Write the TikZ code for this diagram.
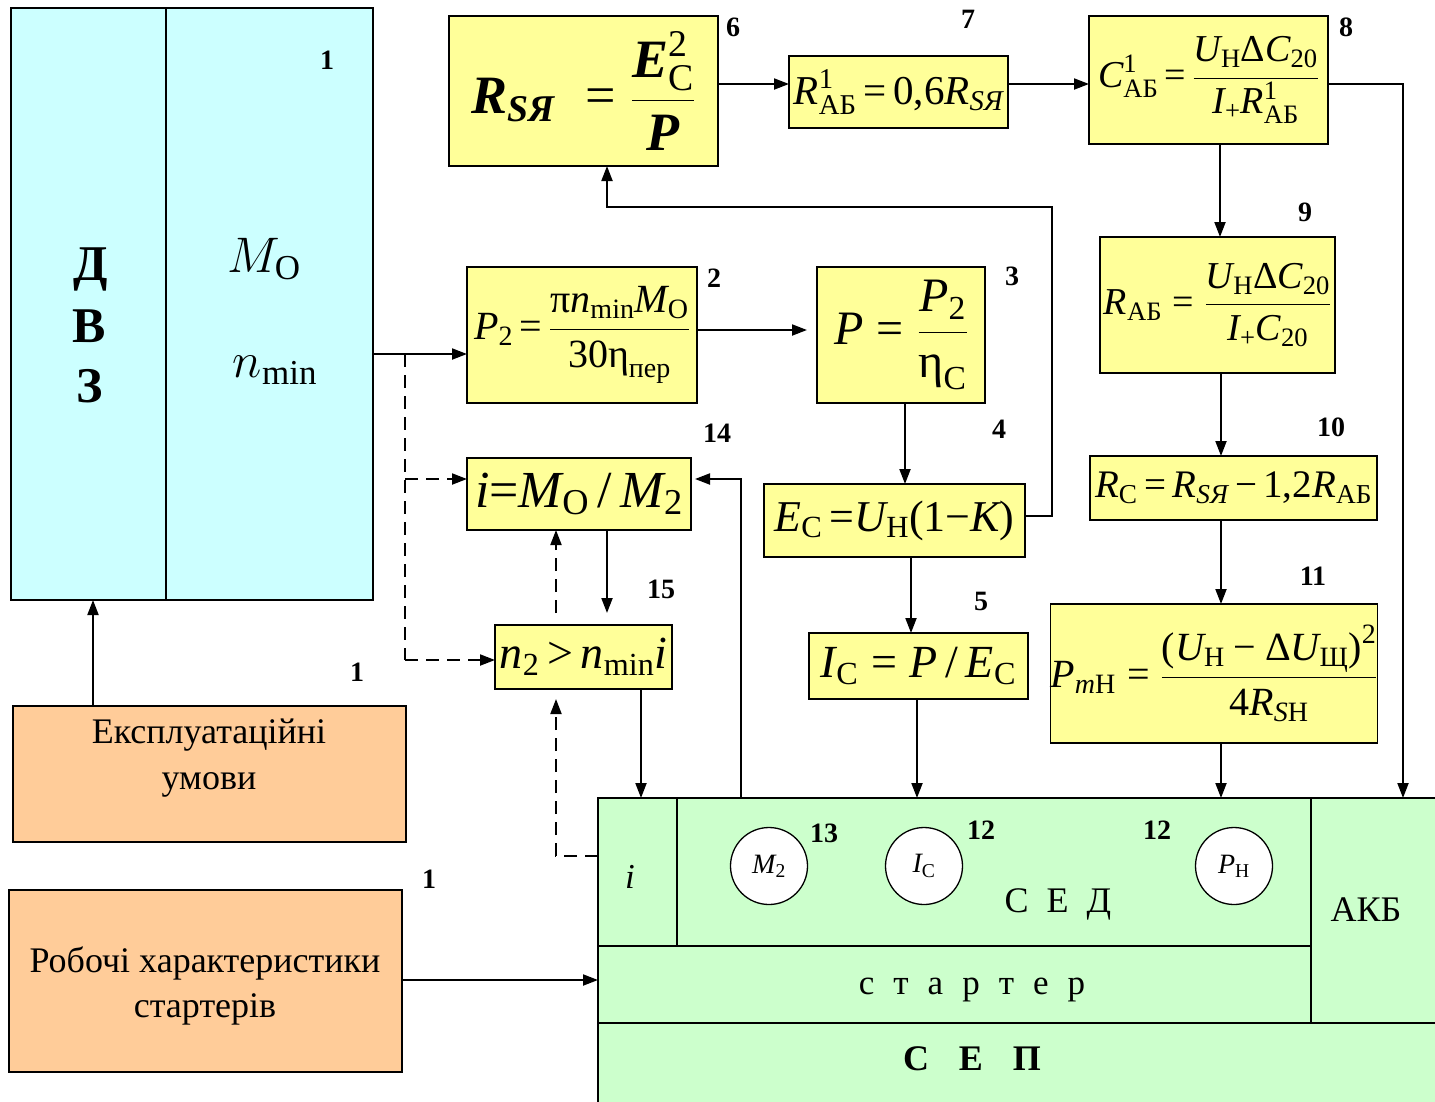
\RequirePackage{fix-cm}
\documentclass[tikz,border=0pt]{standalone}
\usepackage{amsmath}
\usepackage{fontspec}
\setmainfont{Liberation Serif}
\usetikzlibrary{arrows.meta,calc}
\definecolor{ylw}{HTML}{FFFF99}
\definecolor{cyn}{HTML}{CCFFFF}
\definecolor{org}{HTML}{FFCC99}
\definecolor{grn}{HTML}{CCFFCC}
\newcommand\txi[1]{\text{\itshape #1}}
\newcommand\txb[1]{\text{\bfseries\itshape #1}}
\newcommand\txr[1]{\text{\upshape #1}}
\newcommand\Meq{\mathrel{\txr{=}}}
\newcommand\Mmn{\mathbin{\txr{−}}}
\newcommand\Mgt{\mathrel{\txr{>}}}
\newcommand\fs[1]{\fontsize{#1}{#1}\selectfont}
\tikzset{
  box/.style={draw=black, line width=1.3pt, inner sep=0pt, outer sep=0pt},
  ybox/.style={box, fill=ylw},
  cbox/.style={box, fill=cyn},
  obox/.style={box, fill=org},
  gbox/.style={box, fill=grn},
  circ/.style={draw=black, line width=1.3pt, fill=white, circle, minimum size=77pt, inner sep=0pt, font=\fs{28}},
  arr/.style={line width=2pt, -{Triangle[length=15pt,width=11pt]}},
  dsh/.style={line width=1.7pt, dash pattern=on 13pt off 8pt},
  num/.style={font=\fs{28}\bfseries, inner sep=0pt},
  txt/.style={inner sep=0pt}
}
\begin{document}
\begin{tikzpicture}[x=1pt,y=-1pt]
\useasboundingbox (0,0) rectangle (1435,1101);
% DVZ block
\node[cbox, anchor=north west, minimum width=155pt, minimum height=592pt] (dvzL) at (11,8) {};
\node[cbox, anchor=north west, minimum width=207pt, minimum height=592pt] (dvzR) at (166,8) {};
\node[txt, font=\fs{50}\bfseries, anchor=base] (tD) at (91,280) {Д};
\node[txt, font=\fs{50}\bfseries, anchor=base] (tV) at (89,342) {В};
\node[txt, font=\fs{50}\bfseries, anchor=base] (tZ) at (90,402) {З};
\node[txt, font=\fs{50}, anchor=base] (tM) at (264,272) {$M_{\mathrm{O}}$};
\node[txt, font=\fs{50}, anchor=base] (tn) at (275,377) {$n_{\min}$};
% left bottom boxes
\node[obox, minimum width=393pt, minimum height=136pt] (eks) at (209.5,774) {};
\node[txt, font=\fontsize{36}{46}\selectfont, align=center] (ekst) at (209,758) {Експлуатаційні\\умови};
\node[obox, minimum width=393pt, minimum height=182pt] (rob) at (205.5,981) {};
\node[txt, font=\fontsize{36}{45}\selectfont, align=center] (robt) at (205,986) {Робочі характеристики\\стартерів};
% formula boxes
\node[ybox, minimum width=269pt, minimum height=150pt, font=\fs{54}] (b6) at (583.5,91)
  {$\txb{R}_{\txb{SЯ}}\; \Meq \dfrac{\txb{E}^{\txr{2}}_{\txr{С}}}{\txb{P}}$};
\node[ybox, minimum width=219pt, minimum height=72pt, font=\fs{41}] (b7) at (898.5,92)
  {$\txi{R}^{\txr{1}}_{\txr{АБ}} {\,\txr{=}\,} \txr{0,6}\txi{R}_{\txi{SЯ}}$};
\node[ybox, minimum width=239pt, minimum height=128pt, font=\fs{38}] (b8) at (1208.5,80)
  {$\txi{C}^{\txr{1}}_{\txr{АБ}} {\,\txr{=}\,} \dfrac{\txi{U}_{\txr{Н}}\txr{Δ}\txi{C}_{\txr{20}}}{\txi{I}_{\txr{+}}\txi{R}^{\txr{1}}_{\txr{АБ}}}$};
\node[ybox, minimum width=235pt, minimum height=136pt, font=\fs{38}] (b9) at (1217.5,305)
  {$\txi{R}_{\txr{АБ}} \Meq \dfrac{\txi{U}_{\txr{Н}}\txr{Δ}\txi{C}_{\txr{20}}}{\txi{I}_{\txr{+}}\txi{C}_{\txr{20}}}$};
\node[ybox, minimum width=287pt, minimum height=64pt, font=\fs{39}] (b10) at (1233.5,488)
  {$\txi{R}_{\txr{С}} {\,\txr{=}\,} \txi{R}_{\txi{SЯ}} {\,\txr{−}\,} \txr{1,2}\txi{R}_{\txr{АБ}}$};
\node[ybox, minimum width=324pt, minimum height=139pt, font=\fs{40}] (b11) at (1214,673.5)
  {$\txi{P}_{\txi{m}\txr{Н}} \Meq \dfrac{\txr{(}\txi{U}_{\txr{Н}} \Mmn \txr{Δ}\txi{U}_{\txr{Щ}}\txr{)}^{\txr{2}}}{\txr{4}\txi{R}_{\txi{S}\txr{Н}}}$};
\node[ybox, minimum width=230pt, minimum height=136pt, font=\fs{40}] (b2) at (582,335)
  {$\txi{P}_{\txr{2}} {\,\txr{=}\,} \dfrac{\txr{π}\txi{n}_{\txr{min}}\txi{M}_{\txr{O}}}{\txr{30η}_{\txr{пер}}}$};
\node[ybox, minimum width=168pt, minimum height=136pt, font=\fs{48}] (b3) at (901,335)
  {$\txi{P} \Meq \dfrac{\txi{P}_{\txr{2}}}{\txr{η}_{\txr{С}}}$};
\node[ybox, minimum width=261pt, minimum height=73pt, font=\fs{44}] (b4) at (894.5,520.5)
  {$\txi{E}_{\txr{С}} {\,\txr{=}} \txi{U}_{\txr{Н}}\txr{(1}{\txr{−}}\txi{K}\txr{)}$};
\node[ybox, minimum width=219pt, minimum height=66pt, font=\fs{46}] (b5) at (918.5,666)
  {$\txi{I}_{\txr{С}} \Meq \txi{P}\,\txr{/}\,\txi{E}_{\txr{С}}$};
\node[ybox, minimum width=224pt, minimum height=72pt, font=\fs{52}] (b14) at (579,494)
  {$\txi{i} {\txr{=}} \txi{M}_{\txr{O}}\,\txr{/}\,\txi{M}_{\txr{2}}$};
\node[ybox, minimum width=177pt, minimum height=64pt, font=\fs{46}] (b15) at (583.5,657)
  {$\txi{n}_{\txr{2}} {\,\txr{>}\,} \txi{n}_{\txr{min}}\txi{i}$};
% green block
\node[gbox, anchor=north west, minimum width=79pt, minimum height=148pt] (icell) at (598,798) {};
\node[gbox, anchor=north west, minimum width=634pt, minimum height=148pt] (sed) at (677,798) {};
\node[gbox, anchor=north west, minimum width=140pt, minimum height=225pt] (akb) at (1311,798) {};
\node[gbox, anchor=north west, minimum width=713pt, minimum height=77pt] (starter) at (598,946) {};
\node[gbox, anchor=north west, minimum width=853pt, minimum height=95pt] (sep) at (598,1023) {};
\node[txt, font=\fs{35}\itshape] (ti) at (630,877) {i};
\node[txt, font=\fs{36}] (tsed) at (1058,904) {С\hspace{18pt}Е\hspace{18pt}Д};
\node[txt, font=\fs{35}] (tst) at (972,990) {с\hspace{19pt}т\hspace{19pt}а\hspace{19pt}р\hspace{19pt}т\hspace{19pt}е\hspace{19pt}р};
\node[txt, font=\fs{36}\bfseries] (tsep) at (972,1059) {С\hspace{30pt}Е\hspace{30pt}П};
\node[txt, font=\fs{36}] (takb) at (1366,910) {АКБ};
\node[circ] (cM) at (769,866) {$\txi{M}_{\txr{2}}$};
\node[circ] (cI) at (924,866) {$\txi{I}_{\txr{С}}$};
\node[circ] (cP) at (1234,866) {$\txi{P}_{\txr{Н}}$};
% labels
\node[num] (l1a) at (327,60) {1};
\node[num] (l1b) at (357,672) {1};
\node[num] (l1c) at (429,879) {1};
\node[num] (l2) at (714,278) {2};
\node[num] (l3) at (1012,276) {3};
\node[num] (l4) at (999,429) {4};
\node[num] (l5) at (981,601) {5};
\node[num] (l6) at (733,27) {6};
\node[num] (l7) at (968,19) {7};
\node[num] (l8) at (1346,27) {8};
\node[num] (l9) at (1305,212) {9};
\node[num] (l10) at (1331,427) {10};
\node[num] (l11) at (1313,576) {11};
\node[num] (l12a) at (981,830) {12};
\node[num] (l12b) at (1157,830) {12};
\node[num] (l13) at (824,833) {13};
\node[num] (l14) at (717,433) {14};
\node[num] (l15) at (661,589) {15};
% connectors
\coordinate (h1) at (750,84);
\coordinate (h2) at (1050,84);
\coordinate (k3) at (1403,84);
\draw[arr] (h1 -| b6.east) -- (h1 -| b7.west);
\draw[arr] (h2 -| b7.east) -- (h2 -| b8.west);
\draw[arr] (k3 -| b8.east) -- (k3) -- (k3 |- akb.north);
\coordinate (v1) at (1220,200);
\coordinate (v2) at (1221,400);
\draw[arr] (v1 |- b8.south) -- (v1 |- b9.north);
\draw[arr] (v2 |- b9.south) -- (v2 |- b10.north);
\draw[arr] (v2 |- b10.south) -- (v2 |- b11.north);
\draw[arr] (v2 |- b11.south) -- (v2 |- sed.north);
\coordinate (h3) at (750,330);
\draw[arr, shorten >=10pt] (h3 -| b2.east) -- (h3 -| b3.west);
\coordinate (v3) at (905,440);
\draw[arr] (v3 |- b3.south) -- (v3 |- b4.north);
\coordinate (k1) at (1052,516);
\coordinate (k1b) at (1052,207);
\coordinate (k2) at (607,207);
\draw[arr] (k1 -| b4.east) -- (k1) -- (k1b) -- (k2) -- (k2 |- b6.south);
\coordinate (v4) at (911,600);
\draw[arr] (v4 |- b4.south) -- (v4 |- b5.north);
\coordinate (v5) at (917,750);
\draw[arr] (v5 |- b5.south) -- (v5 |- sed.north);
\coordinate (v6) at (607,570);
\draw[arr, shorten >=12pt] (v6 |- b14.south) -- (v6 |- b15.north);
\coordinate (v7) at (641,740);
\draw[arr] (v7 |- b15.south) -- (v7 |- icell.north);
\coordinate (k4) at (741,479);
\draw[arr, shorten >=4pt] (k4 |- sed.north) -- (k4) -- (k4 -| b14.east);
\coordinate (k5) at (556,856);
\draw[dsh, arr, shorten >=10pt] (k5 -| icell.west) -- (k5) -- (k5 |- b15.south);
\coordinate (v8) at (556,580);
\draw[dsh, arr, shorten <=12pt] (v8 |- b15.north) -- (v8 |- b14.south);
\coordinate (j1) at (405,354);
\coordinate (j2) at (405,479);
\coordinate (j3) at (405,660);
\draw[arr] (j1 -| dvzR.east) -- (j1 -| b2.west);
\draw[dsh] (j1) -- (j3);
\draw[dsh, arr] (j2) -- (j2 -| b14.west);
\draw[dsh, arr] (j3) -- (j3 -| b15.west);
\coordinate (v9) at (93,650);
\draw[arr] (v9 |- eks.north) -- (v9 |- dvzL.south);
\coordinate (h4) at (500,980);
\draw[arr] (h4 -| rob.east) -- (h4 -| starter.west);
\end{tikzpicture}
\end{document}
